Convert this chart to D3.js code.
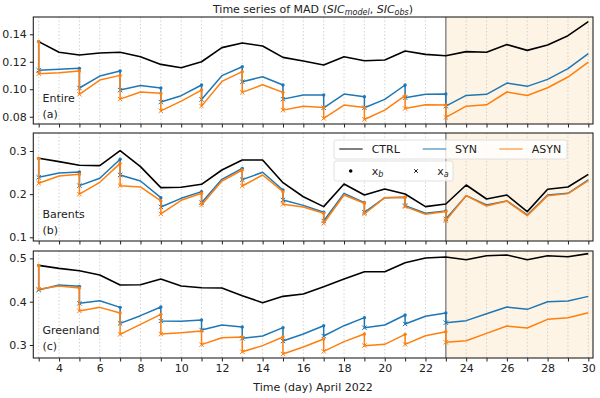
<!DOCTYPE html>
<html><head><meta charset="utf-8">
<script src="https://cdn.jsdelivr.net/npm/d3@7"></script>
<style>body{margin:0;background:#fff}svg{display:block;font-family:"DejaVu Sans",sans-serif}</style>
</head><body>
<svg id="c" width="600" height="398"></svg>
<script>
const days = d3.range(3, 31);
const assimDays = [3,5,7,9,11,13,15,17,19,21,23];
const panelNames = ["Entire", "Barents", "Greenland"];
const panelTags = ["(a)", "(b)", "(c)"];
const yTicks = [[0.08,0.10,0.12,0.14],[0.1,0.2,0.3],[0.3,0.4,0.5]];
const yDomains = [[0.0747,0.1526],[0.0914,0.3417],[0.270,0.517]];
const xTickLabels = [4,6,8,10,12,14,16,18,20,22,24,26,28,30];

const ctrlEntire = [0.1347,0.1269,0.1249,0.1264,0.1269,0.1237,0.1181,0.1157,0.1200,0.1303,0.1337,0.1315,0.1232,0.1206,0.1176,0.1237,0.1208,0.1213,0.1278,0.1254,0.1244,0.1274,0.1269,0.1325,0.1283,0.1322,0.1390,0.1492];
const synBEntire = [0.1347,0.1145,0.1152,0.1096,0.1133,0.1028,0.1009,0.0953,0.1031,0.1099,0.1164,0.1091,0.1031,0.0958,0.0958,0.0965,0.0945,0.0926,0.1031,0.0963,0.0965,0.0955,0.0963,0.1045,0.1021,0.1072,0.1150,0.1259];
const synAEntire = [0.1138,0.1009,0.0994,0.0907,0.0926,0.1055,0.0928,0.0865,0.0865,0.0938,0.0877];
const asynBEntire = [0.1347,0.1120,0.1133,0.1067,0.1101,0.0980,0.0970,0.0914,0.0994,0.1057,0.1128,0.1033,0.0977,0.0877,0.0868,0.0885,0.0868,0.0848,0.0953,0.0887,0.0885,0.0877,0.0887,0.0980,0.0955,0.1011,0.1089,0.1198];
const asynAEntire = [0.1113,0.0963,0.0928,0.0843,0.0877,0.0977,0.0848,0.0788,0.0780,0.0860,0.0795];

const ctrlBarents = [0.283,0.2753,0.2668,0.266,0.3008,0.2637,0.215,0.2158,0.2228,0.256,0.2792,0.2792,0.2266,0.194,0.171,0.2236,0.198,0.212,0.2004,0.171,0.1772,0.2212,0.1888,0.198,0.1595,0.2112,0.2166,0.2459];
const synBBarents = [0.283,0.249,0.2514,0.2367,0.2807,0.2305,0.1919,0.1903,0.2058,0.2344,0.2598,0.2506,0.2097,0.174,0.158,0.2019,0.1803,0.1919,0.1927,0.1556,0.161,0.1965,0.1749,0.1842,0.1517,0.1981,0.2019,0.2328];
const synABarents = [0.239,0.2197,0.2444,0.1703,0.1803,0.2336,0.1865,0.1378,0.158,0.1734,0.1425];
const asynBBarents = [0.283,0.2421,0.246,0.2274,0.2714,0.2166,0.1842,0.1857,0.2019,0.2305,0.256,0.2444,0.2058,0.1703,0.1556,0.1981,0.1788,0.1919,0.1927,0.1533,0.1595,0.1965,0.1726,0.1842,0.15,0.1965,0.2012,0.2313];
const asynABarents = [0.2251,0.2,0.2197,0.154,0.1749,0.2189,0.1764,0.1324,0.154,0.171,0.1386];

const ctrlGreenland = [0.4838,0.4769,0.4715,0.4615,0.4385,0.4392,0.4523,0.4362,0.4323,0.4315,0.4138,0.3977,0.4123,0.4177,0.4346,0.4523,0.4692,0.4692,0.49,0.5008,0.503,0.4969,0.5062,0.5077,0.4969,0.5062,0.5038,0.511];
const synBGreenland = [0.4838,0.4385,0.4354,0.4023,0.3869,0.3677,0.3877,0.3546,0.3577,0.3462,0.3415,0.3208,0.34,0.3254,0.3446,0.3446,0.3631,0.3462,0.3692,0.3662,0.3738,0.3562,0.3723,0.3877,0.3823,0.4,0.4015,0.4123];
const synAGreenland = [0.4269,0.3962,0.35,0.3554,0.3346,0.3154,0.3092,0.3208,0.34,0.3485,0.3515];
const asynBGreenland = [0.4838,0.4362,0.4315,0.3869,0.3738,0.3477,0.3708,0.3285,0.3323,0.3169,0.3185,0.2985,0.3185,0.2954,0.3138,0.3077,0.3254,0.3015,0.3246,0.3215,0.3308,0.31,0.3269,0.3438,0.3392,0.3592,0.3631,0.3746];
const asynAGreenland = [0.4285,0.3785,0.3246,0.3254,0.3008,0.2846,0.2792,0.2854,0.2985,0.3015,0.3062];

const panels = [
  {ctrl: ctrlEntire, synB: synBEntire, synA: synAEntire, asynB: asynBEntire, asynA: asynAEntire},
  {ctrl: ctrlBarents, synB: synBBarents, synA: synABarents, asynB: asynBBarents, asynA: asynABarents},
  {ctrl: ctrlGreenland, synB: synBGreenland, synA: synAGreenland, asynB: asynBGreenland, asynA: asynAGreenland}
];

const C_CTRL = "#000000", C_SYN = "#1f77b4", C_ASYN = "#ff7f0e";
const svg = d3.select("#c");
const left = 33.3, right = 593;
const tops = [17, 133, 251], bottoms = [124, 241, 358];
const x = d3.scaleLinear().domain([2.735, 30.23]).range([left, right]);

function seq(B, A) {
  const pts = [];
  days.forEach((d, i) => {
    pts.push([d, B[i]]);
    const k = assimDays.indexOf(d);
    if (k >= 0) pts.push([d, A[k]]);
  });
  return pts;
}

panels.forEach((p, pi) => {
  const y = d3.scaleLinear().domain(yDomains[pi]).range([bottoms[pi], tops[pi]]);
  const g = svg.append("g");
  const clipId = "clip" + pi;
  svg.append("clipPath").attr("id", clipId).append("rect")
    .attr("x", left).attr("y", tops[pi]).attr("width", right - left).attr("height", bottoms[pi] - tops[pi]);
  const inner = g.append("g").attr("clip-path", `url(#${clipId})`);
  // shading
  inner.append("rect").attr("x", x(23)).attr("y", tops[pi])
    .attr("width", right - x(23)).attr("height", bottoms[pi] - tops[pi])
    .attr("fill", "#fdf4e5");
  // grid
  inner.selectAll("line.grid").data(days).join("line")
    .attr("x1", d => x(d)).attr("x2", d => x(d))
    .attr("y1", tops[pi]).attr("y2", bottoms[pi])
    .attr("stroke", "#c8c8c8").attr("stroke-width", 0.8).attr("stroke-dasharray", "1.5,2");
  inner.append("line").attr("x1", x(23)).attr("x2", x(23)).attr("y1", tops[pi]).attr("y2", bottoms[pi])
    .attr("stroke", "#8c8c8c").attr("stroke-width", 1.5);

  const line = d3.line().x(d => x(d[0])).y(d => y(d[1]));
  inner.append("path").datum(days.map((d, i) => [d, p.ctrl[i]])).attr("d", line)
    .attr("fill", "none").attr("stroke", C_CTRL).attr("stroke-width", 1.6).attr("stroke-linejoin", "round");
  [[p.synB, p.synA, C_SYN], [p.asynB, p.asynA, C_ASYN]].forEach(([B, A, col]) => {
    inner.append("path").datum(seq(B, A)).attr("d", line)
      .attr("fill", "none").attr("stroke", col).attr("stroke-width", 1.5).attr("stroke-linejoin", "round");
    const bPts = assimDays.map(d => [d, B[days.indexOf(d)]]);
    const aPts = assimDays.map((d, k) => [d, A[k]]);
    inner.selectAll(null).data(bPts).join("circle")
      .attr("cx", d => x(d[0])).attr("cy", d => y(d[1])).attr("r", 1.7).attr("fill", col);
    const s = 2.2;
    inner.selectAll(null).data(aPts).join("path")
      .attr("d", d => { const cx = x(d[0]), cy = y(d[1]);
        return `M${cx-s},${cy-s}L${cx+s},${cy+s}M${cx-s},${cy+s}L${cx+s},${cy-s}`; })
      .attr("stroke", col).attr("stroke-width", 1).attr("fill", "none");
  });

  // frame
  g.append("rect").attr("x", left).attr("y", tops[pi]).attr("width", right - left).attr("height", bottoms[pi] - tops[pi])
    .attr("fill", "none").attr("stroke", "#222").attr("stroke-width", 1.1);

  // y axis
  const ya = g.append("g").attr("transform", `translate(${left},0)`)
    .call(d3.axisLeft(y).tickValues(yTicks[pi]).tickSize(3.5).tickPadding(3)
      .tickFormat(pi === 0 ? d3.format(".2f") : d3.format(".1f")));
  ya.select(".domain").remove();
  ya.selectAll("text").attr("font-size", 11).attr("font-family", "DejaVu Sans").attr("fill", "#222");
  ya.selectAll("line").attr("stroke", "#222");

  // x axis
  const xa = g.append("g").attr("transform", `translate(0,${bottoms[pi]})`)
    .call(d3.axisBottom(x).tickValues(days).tickSize(3.5).tickPadding(3)
      .tickFormat(d => (pi === 2 && xTickLabels.includes(d)) ? d : ""));
  xa.select(".domain").remove();
  xa.selectAll("text").attr("font-size", 11).attr("font-family", "DejaVu Sans").attr("fill", "#222");
  xa.selectAll("line").attr("stroke", "#222");

  // panel labels
  const lblY = [[98, 114], [214, 230], [330, 346]][pi];
  g.append("text").attr("x", 42.5).attr("y", lblY[0]).attr("dy", "0.35em").attr("font-size", 11).attr("fill", "#222").text(panelNames[pi]);
  g.append("text").attr("x", 42.5).attr("y", lblY[1]).attr("dy", "0.35em").attr("font-size", 11).attr("fill", "#222").text(panelTags[pi]);
});

// title
const t = svg.append("text").attr("x", 313).attr("y", 13).attr("text-anchor", "middle").attr("font-size", 11).attr("fill", "#222");
t.append("tspan").text("Time series of MAD (");
t.append("tspan").attr("font-style", "italic").text("SIC");
t.append("tspan").attr("font-style", "italic").attr("font-size", 8).attr("dy", 2).text("model");
t.append("tspan").attr("dy", -2).text(",  ");
t.append("tspan").attr("font-style", "italic").text("SIC");
t.append("tspan").attr("font-style", "italic").attr("font-size", 8).attr("dy", 2).text("obs");
t.append("tspan").attr("dy", -2).text(")");

// x label
svg.append("text").attr("x", 313).attr("y", 391).attr("text-anchor", "middle").attr("font-size", 11).attr("fill", "#222")
  .text("Time (day) April 2022");

// legends
const lg = svg.append("g");
lg.append("rect").attr("x", 334).attr("y", 140).attr("width", 233).attr("height", 19).attr("rx", 2)
  .attr("fill", "#fff").attr("fill-opacity", 0.8).attr("stroke", "#d8d8d8").attr("stroke-width", 0.8);
lg.append("rect").attr("x", 334).attr("y", 161).attr("width", 119).attr("height", 20).attr("rx", 2)
  .attr("fill", "#fff").attr("fill-opacity", 0.8).attr("stroke", "#d8d8d8").attr("stroke-width", 0.8);
const legItems = [["CTRL", C_CTRL, 339.3], ["SYN", C_SYN, 422.7], ["ASYN", C_ASYN, 499.3]];
legItems.forEach(([name, col, lx]) => {
  lg.append("line").attr("x1", lx).attr("x2", lx + 23.4).attr("y1", 149).attr("y2", 149).attr("stroke", col).attr("stroke-width", 1);
  lg.append("text").attr("x", lx + 32.4).attr("y", 149).attr("dy", "0.35em").attr("font-size", 11).attr("fill", "#222").text(name);
});
lg.append("circle").attr("cx", 350.7).attr("cy", 171).attr("r", 1.8).attr("fill", "#000");
const s2 = 1.8;
lg.append("path").attr("d", `M${416-s2},${171-s2}L${416+s2},${171+s2}M${416-s2},${171+s2}L${416+s2},${171-s2}`).attr("stroke", "#000").attr("stroke-width", 0.9);
const xb = lg.append("text").attr("x", 371.7).attr("y", 171).attr("dy", "0.35em").attr("font-size", 11).attr("fill", "#222");
xb.append("tspan").text("x");
xb.append("tspan").attr("font-style", "italic").attr("font-size", 8).attr("dy", 2).text("b");
const xa2 = lg.append("text").attr("x", 437.3).attr("y", 171).attr("dy", "0.35em").attr("font-size", 11).attr("fill", "#222");
xa2.append("tspan").text("x");
xa2.append("tspan").attr("font-style", "italic").attr("font-size", 8).attr("dy", 2).text("a");
</script>
</body></html>
